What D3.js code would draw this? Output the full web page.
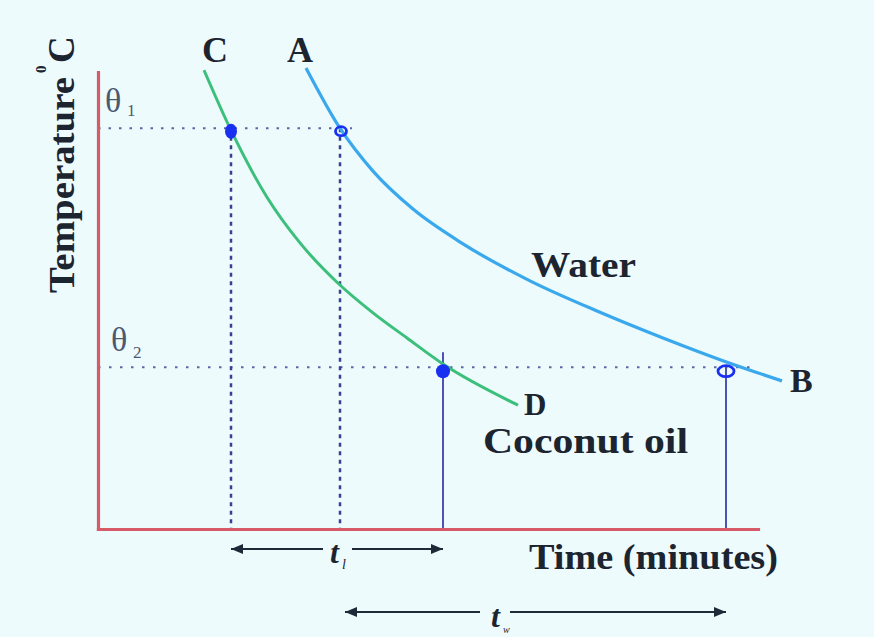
<!DOCTYPE html>
<html><head><meta charset="utf-8">
<script src="https://cdnjs.cloudflare.com/ajax/libs/d3/7.8.5/d3.min.js"></script>
<style>
html,body{margin:0;padding:0;background:#edfbfc;}
svg{display:block;}
</style></head>
<body>
<svg id="c" width="874" height="637"></svg>
<script>
// ---- data ----
const coconutTime = [5.3, 6.6, 8.45, 10.1, 11.95, 13.75, 15.45, 17.25, 21.0];
const coconutTemp = [100.4, 87.7, 72.6, 62.6, 54.0, 47.3, 41.8, 36.1, 27.1];
const waterTime = [10.4, 12.1, 13.75, 15.75, 18.25, 21.6, 24.95, 28.25, 31.45, 34.2];
const waterTemp = [100.9, 87.7, 78.3, 70.0, 62.4, 54.3, 47.7, 41.8, 36.5, 32.4];
const theta1 = 87.7, theta2 = 35.4;
const coconutT1 = 6.65, waterT1 = 12.1, coconutT2 = 17.25, waterT2 = 31.4;
const xMax = 33, yMax = 100;

const FONT = "'Liberation Serif', 'Times New Roman', Tinos, Times, serif";
const svg = d3.select("#c");
svg.append("rect").attr("width",874).attr("height",637).attr("fill","#edfbfc");
const x = d3.scaleLinear().domain([0,xMax]).range([98,758]);
const y = d3.scaleLinear().domain([0,yMax]).range([529,72]);

const defs = svg.append("defs");
defs.append("marker").attr("id","ah").attr("viewBox","0 0 12 10").attr("refX",12).attr("refY",5)
  .attr("markerWidth",14).attr("markerHeight",10).attr("markerUnits","userSpaceOnUse").attr("orient","auto-start-reverse")
  .append("path").attr("d","M0,0 L12,5 L0,10 Z").attr("fill","#1e2a38");

// dotted guide lines
const dotCol = "#3a4090";
const g = svg.append("g");
g.append("line").attr("x1",x(0)).attr("x2",x(12.7)).attr("y1",y(theta1)).attr("y2",y(theta1))
 .attr("stroke",dotCol).attr("stroke-width",2).attr("stroke-dasharray","2.5,8").attr("opacity",0.8);
g.append("line").attr("x1",x(0)).attr("x2",x(32.9)).attr("y1",y(theta2)).attr("y2",y(theta2))
 .attr("stroke",dotCol).attr("stroke-width",2).attr("stroke-dasharray","2.5,8.5").attr("opacity",0.8);
[coconutT1, waterT1].forEach(t=>{
  g.append("line").attr("x1",x(t)).attr("x2",x(t)).attr("y1",y(theta1)).attr("y2",y(0))
   .attr("stroke",dotCol).attr("stroke-width",2.5).attr("stroke-dasharray","4,4.5");
});
// solid verticals
g.append("line").attr("x1",x(coconutT2)).attr("x2",x(coconutT2)).attr("y1",y(theta2)-15).attr("y2",y(0))
 .attr("stroke","#3c40b0").attr("stroke-width",1.8);
g.append("line").attr("x1",x(waterT2)).attr("x2",x(waterT2)).attr("y1",y(theta2)).attr("y2",y(0))
 .attr("stroke","#3c40b0").attr("stroke-width",1.8);

// axes
svg.append("g").attr("transform",`translate(0,${y(0)})`).call(d3.axisBottom(x).ticks(0).tickSizeOuter(0));
svg.append("g").attr("transform",`translate(${x(0)},0)`).call(d3.axisLeft(y).ticks(0).tickSizeOuter(0));
svg.selectAll(".domain").attr("stroke","#d65a68").attr("stroke-width",3.2).attr("stroke-linecap","square");

// curves
const line = d3.line().x(d=>x(d[0])).y(d=>y(d[1])).curve(d3.curveMonotoneX);
svg.append("path").attr("d",line(coconutTime.map((t,i)=>[t,coconutTemp[i]])))
  .attr("fill","none").attr("stroke","#3dbf7c").attr("stroke-width",3);
svg.append("path").attr("d",line(waterTime.map((t,i)=>[t,waterTemp[i]])))
  .attr("fill","none").attr("stroke","#3aa8ec").attr("stroke-width",3.2);

// markers
const mk = "#1a30f0";
svg.append("ellipse").attr("cx",x(coconutT1)).attr("cy",y(theta1)+3).attr("rx",6).attr("ry",7.5).attr("fill",mk);
svg.append("ellipse").attr("cx",x(waterT1)+1).attr("cy",y(theta1)+3).attr("rx",5.5).attr("ry",4.5).attr("fill","none").attr("stroke",mk).attr("stroke-width",2.8);
svg.append("ellipse").attr("cx",x(coconutT2)).attr("cy",y(theta2)+4).attr("rx",7).attr("ry",7).attr("fill",mk);
svg.append("ellipse").attr("cx",x(waterT2)).attr("cy",y(theta2)+4).attr("rx",8).attr("ry",5.5).attr("fill","none").attr("stroke",mk).attr("stroke-width",2.8);

// arrows
const ac = "#1e2a38";
function arrow(t0,t1,py,gapL,gapR){
  svg.append("line").attr("x1",gapL).attr("x2",x(t0)).attr("y1",py).attr("y2",py)
    .attr("stroke",ac).attr("stroke-width",2).attr("marker-end","url(#ah)");
  svg.append("line").attr("x1",gapR).attr("x2",x(t1)).attr("y1",py).attr("y2",py)
    .attr("stroke",ac).attr("stroke-width",2).attr("marker-end","url(#ah)");
}
arrow(coconutT1, coconutT2, 549, 323, 352);
arrow(12.35, waterT2, 612, 480, 510);

// texts
const tc = "#1c2430";
function txt(s,px,py,size,opts={}){
  const t = svg.append("text").attr("x",px).attr("y",py).attr("font-size",size)
   .attr("font-family",FONT)
   .attr("fill",opts.fill||tc).attr("font-weight",opts.weight||"bold")
   .attr("text-anchor",opts.anchor||"start").text(s);
  if(opts.italic) t.attr("font-style","italic");
  if(opts.len) t.attr("textLength",opts.len).attr("lengthAdjust","spacingAndGlyphs");
  return t;
}
txt("C",215,62,36,{anchor:"middle"});
txt("A",300,62,36,{anchor:"middle"});
txt("B",790,392,34);
txt("D",524,415,31);
txt("Water",531,277,36,{len:105});
txt("Coconut oil",483,453,35,{len:205});
txt("Time (minutes)",529,569,36,{len:249});
// theta labels
txt("θ",105,112,34,{weight:"normal",fill:"#4a5870"});
txt("1",127,116,17,{weight:"normal",fill:"#4a5870"});
txt("θ",111,351,34,{weight:"normal",fill:"#4a5870"});
txt("2",133,358,17,{weight:"normal",fill:"#4a5870"});
// t labels
txt("t",330,563,32,{italic:true});
txt("l",342,569,14,{italic:true,weight:"normal"});
txt("t",491,627,32,{italic:true});
txt("w",503,633,10,{italic:true,weight:"normal"});
// y-axis title
const yt = svg.append("g").attr("transform","translate(74,293) rotate(-90)")
  .attr("font-family",FONT).attr("font-weight","bold").attr("fill",tc);
yt.append("text").attr("x",0).attr("y",0).attr("font-size",36)
  .attr("textLength",216).attr("lengthAdjust","spacingAndGlyphs").text("Temperature");
yt.append("text").attr("x",220).attr("y",-28).attr("font-size",15).text("0");
yt.append("text").attr("x",230).attr("y",0).attr("font-size",37).text("C");
</script>
</body></html>
